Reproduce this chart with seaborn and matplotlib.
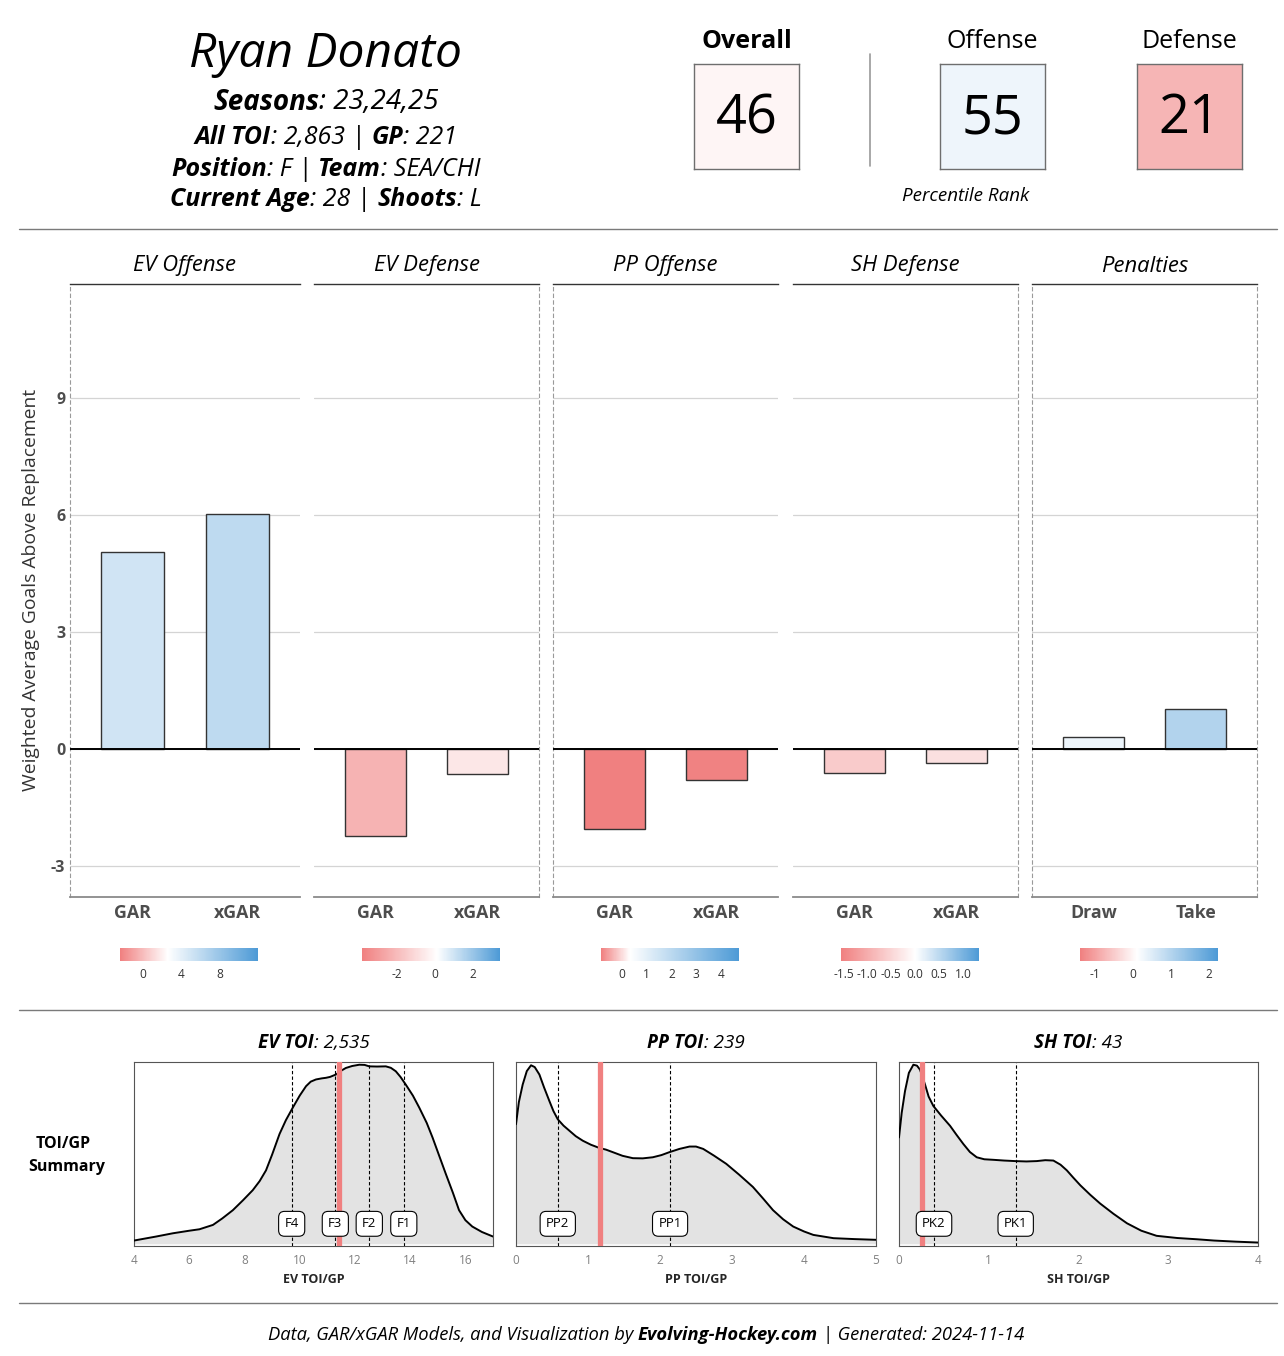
import numpy as np
import matplotlib
matplotlib.use('Agg')
import matplotlib.pyplot as plt
import seaborn as sns
from matplotlib.colors import LinearSegmentedColormap, Normalize
from matplotlib.cm import ScalarMappable
from matplotlib.lines import Line2D

sns.set_style('white')
plt.rcParams['font.family'] = ['Open Sans', 'DejaVu Sans']
plt.rcParams['text.color'] = 'black'

# ---- data ----
player = 'Ryan Donato'
rank_names = ['Overall', 'Offense', 'Defense']
rank_values = [46, 55, 21]

panel_titles = ['EV Offense', 'EV Defense', 'PP Offense', 'SH Defense', 'Penalties']
bar_cats = [['GAR', 'xGAR'], ['GAR', 'xGAR'], ['GAR', 'xGAR'], ['GAR', 'xGAR'], ['Draw', 'Take']]
ev_off = [5.05, 6.02]
ev_def = [-2.24, -0.65]
pp_off = [-2.05, -0.80]
sh_def = [-0.63, -0.37]
pens = [0.31, 1.03]
bar_values = [ev_off, ev_def, pp_off, sh_def, pens]

# colour scale (low, mid, high) and colourbar ticks per panel
scale_lims = [(-2.3, 2.6, 11.9), (-3.85, 0.1, 3.42), (-0.84, 0.32, 4.72),
              (-1.55, 0.0, 1.33), (-1.4, 0.1, 2.24)]
scale_ticks = [[0, 4, 8], [-2, 0, 2], [0, 1, 2, 3, 4],
               [-1.5, -1.0, -0.5, 0.0, 0.5, 1.0], [-1, 0, 1, 2]]

# TOI/GP density curves
ev_x = [4.0, 4.8, 5.41, 6.0, 6.37, 6.86, 7.2, 7.58, 7.95, 8.30, 8.55, 8.78, 9.0, 9.27, 9.5,
        9.75, 10.0, 10.23, 10.4, 10.59, 10.8, 10.95, 11.1, 11.31, 11.5, 11.67, 11.9, 12.16,
        12.35, 12.52, 12.8, 13.12, 13.3, 13.48, 13.65, 13.84, 14.1, 14.33, 14.6, 14.81,
        15.05, 15.29, 15.55, 15.77, 16.0, 16.25, 16.6, 17.0]
ev_d = [0.018, 0.040, 0.058, 0.072, 0.080, 0.104, 0.140, 0.185, 0.240, 0.295, 0.345, 0.404,
        0.490, 0.604, 0.680, 0.749, 0.815, 0.867, 0.892, 0.904, 0.910, 0.913, 0.918, 0.931,
        0.952, 0.967, 0.978, 0.985, 0.984, 0.976, 0.975, 0.976, 0.968, 0.949, 0.918, 0.876,
        0.815, 0.749, 0.665, 0.585, 0.485, 0.385, 0.280, 0.185, 0.130, 0.095, 0.065, 0.040]
pp_x = [0.0, 0.04, 0.093, 0.15, 0.209, 0.26, 0.325, 0.39, 0.464, 0.52, 0.58, 0.66, 0.742,
        0.83, 0.928, 1.04, 1.16, 1.25, 1.345, 1.48, 1.623, 1.76, 1.90, 2.02, 2.13, 2.27,
        2.41, 2.50, 2.60, 2.75, 2.92, 3.10, 3.29, 3.43, 3.57, 3.71, 3.85, 4.0, 4.13, 4.41,
        4.7, 5.0]
pp_d = [0.658, 0.780, 0.876, 0.950, 0.982, 0.972, 0.931, 0.860, 0.785, 0.730, 0.685, 0.650,
        0.622, 0.592, 0.567, 0.545, 0.527, 0.518, 0.504, 0.484, 0.471, 0.470, 0.476, 0.488,
        0.504, 0.522, 0.535, 0.535, 0.522, 0.485, 0.440, 0.380, 0.313, 0.250, 0.185, 0.135,
        0.095, 0.068, 0.049, 0.031, 0.026, 0.022]
sh_x = [0.0, 0.03, 0.067, 0.11, 0.16, 0.20, 0.234, 0.29, 0.33, 0.383, 0.47, 0.569, 0.64,
        0.717, 0.79, 0.866, 0.95, 1.052, 1.17, 1.294, 1.42, 1.535, 1.63, 1.72, 1.80, 1.87,
        1.94, 2.02, 2.13, 2.24, 2.39, 2.54, 2.70, 2.87, 3.1, 3.32, 3.51, 3.75, 4.0]
sh_d = [0.585, 0.720, 0.840, 0.940, 0.985, 0.980, 0.958, 0.876, 0.810, 0.758, 0.705, 0.649,
        0.600, 0.549, 0.505, 0.476, 0.465, 0.462, 0.458, 0.455, 0.453, 0.455, 0.460, 0.458,
        0.435, 0.404, 0.365, 0.322, 0.270, 0.222, 0.165, 0.113, 0.072, 0.044, 0.032, 0.025,
        0.018, 0.012, 0.007]

ev_q = [9.71, 11.29, 12.52, 13.77]
ev_q_lab = ['F4', 'F3', 'F2', 'F1']
pp_q = [0.58, 2.14]
pp_q_lab = ['PP2', 'PP1']
sh_q = [0.39, 1.30]
sh_q_lab = ['PK2', 'PK1']
player_toi = [11.43, 1.16, 0.26]
toi_titles = [('EV TOI', ': 2,535'), ('PP TOI', ': 239'), ('SH TOI', ': 43')]
toi_xlabels = ['EV TOI/GP', 'PP TOI/GP', 'SH TOI/GP']

RED = '#F08080'
BLUE = '#4D9AD6'
W, H = 1284, 1356

fig = plt.figure(figsize=(W / 100, H / 100), dpi=100)
renderer = fig.canvas.get_renderer()


def box(x0, y0, x1, y1):
    return [x0 / W, 1 - y1 / H, (x1 - x0) / W, (y1 - y0) / H]


def make_cmap(lo, mid, hi):
    p = (mid - lo) / (hi - lo)
    return LinearSegmentedColormap.from_list('c', [(0, RED), (p, 'white'), (1, BLUE)])


def rich_text(xc, y, parts, size, color='black'):
    # parts: (text, weight, style) pieces laid out left to right, centred on xc
    texts, widths = [], []
    for s, w, st in parts:
        t = fig.text(0, 1 - y / H, s, fontsize=size, fontweight=w, fontstyle=st,
                     va='center', ha='left', color=color)
        widths.append(t.get_window_extent(renderer).width)
        texts.append(t)
    x = xc - sum(widths) / 2
    for t, w in zip(texts, widths):
        t.set_x(x / W)
        x += w


def hline(y, x0=19, x1=1277, color='#7a7a7a'):
    fig.add_artist(Line2D([x0 / W, x1 / W], [1 - y / H] * 2, color=color, lw=1))


# ---- header ----
fig.text(326 / W, 1 - 54 / H, player, fontsize=34.5, fontstyle='italic', ha='center', va='center')
rich_text(326, 102, [('Seasons', 'bold', 'italic'), (': 23,24,25', 'normal', 'italic')], 20)
rich_text(326, 138, [('All TOI', 'bold', 'italic'), (': 2,863 | ', 'normal', 'italic'),
                     ('GP', 'bold', 'italic'), (': 221', 'normal', 'italic')], 18)
rich_text(326, 169, [('Position', 'bold', 'italic'), (': F | ', 'normal', 'italic'),
                     ('Team', 'bold', 'italic'), (': SEA/CHI', 'normal', 'italic')], 18)
rich_text(326, 199, [('Current Age', 'bold', 'italic'), (': 28 | ', 'normal', 'italic'),
                     ('Shoots', 'bold', 'italic'), (': L', 'normal', 'italic')], 18)

rank_cmap = make_cmap(0, 50, 100)
rank_norm = Normalize(0, 100)
for i, (name, val, x0) in enumerate(zip(rank_names, rank_values, [694, 940, 1137])):
    bax = fig.add_axes(box(x0, 64, x0 + 105, 169))
    bax.set_facecolor(rank_cmap(rank_norm(val)))
    bax.set_xticks([])
    bax.set_yticks([])
    for sp in bax.spines.values():
        sp.set_color('#6e6e6e')
        sp.set_linewidth(1)
    bax.text(0.5, 0.48, str(val), fontsize=39, ha='center', va='center', transform=bax.transAxes)
    fig.text((x0 + 52.5) / W, 1 - 42 / H, name, fontsize=18, ha='center', va='center',
             fontweight='bold' if i == 0 else 'normal')
fig.add_artist(Line2D([870 / W] * 2, [1 - 54 / H, 1 - 166 / H], color='#999999', lw=1.2))
fig.text(966 / W, 1 - 196 / H, 'Percentile Rank', fontsize=13.5, fontstyle='italic',
         ha='center', va='center')

hline(229)

# ---- GAR bar panels ----
panel_x = [(70, 300), (314, 539), (553, 778), (793, 1018), (1032, 1257)]
dashed = [('left',), ('right',), ('left',), ('right',), ('left', 'right')]
cbar_left = [120, 362, 601, 841, 1080]

for i in range(5):
    x0, x1 = panel_x[i]
    ax = fig.add_axes(box(x0, 284, x1, 897))
    lo, mid, hi = scale_lims[i]
    cmap = make_cmap(lo, mid, hi)
    norm = Normalize(lo, hi)
    vals = bar_values[i]
    cols = [cmap(norm(np.clip(v, lo, hi))) for v in vals]
    sns.barplot(x=bar_cats[i], y=vals, hue=bar_cats[i], palette=cols, legend=False,
                saturation=1, width=0.6, edgecolor='#333333', linewidth=1.0, ax=ax)
    ax.set_xlim(-0.6, 1.6)
    ax.set_ylim(-3.8, 11.92)
    ax.set_yticks([-3, 0, 3, 6, 9])
    ax.yaxis.grid(True, color='#d4d4d4', lw=0.9)
    ax.set_axisbelow(True)
    ax.axhline(0, color='black', lw=1.4, zorder=3)
    ax.set_xlabel('')
    ax.set_ylabel('')
    ax.tick_params(length=0)
    ax.tick_params(axis='x', pad=5)
    for lab in ax.get_xticklabels():
        lab.set_fontweight('bold')
        lab.set_fontsize(12.8)
        lab.set_color('#4d4d4d')
    if i == 0:
        ax.set_yticklabels(['-3', '0', '3', '6', '9'], fontweight='bold', fontsize=11.5,
                           color='#4d4d4d')
    else:
        ax.set_yticklabels([])
    for side in ['left', 'right']:
        sp = ax.spines[side]
        if side in dashed[i]:
            sp.set_visible(True)
            sp.set_color('#9a9a9a')
            sp.set_linestyle((0, (3, 3)))
            sp.set_linewidth(0.8)
        else:
            sp.set_visible(False)
    ax.spines['top'].set_color('#333333')
    ax.spines['top'].set_linewidth(1.0)
    ax.spines['bottom'].set_color('#8a8a8a')
    ax.spines['bottom'].set_linewidth(1.3)
    fig.text((x0 + x1) / 2 / W, 1 - 266 / H, panel_titles[i], fontsize=15.8,
             fontstyle='italic', ha='center', va='center')

    cax = fig.add_axes(box(cbar_left[i], 948, cbar_left[i] + 138, 961))
    cb = fig.colorbar(ScalarMappable(norm=norm, cmap=cmap), cax=cax, orientation='horizontal')
    cb.outline.set_visible(False)
    cb.set_ticks(scale_ticks[i])
    if i == 3:
        cb.set_ticklabels(['%.1f' % t for t in scale_ticks[i]])
    else:
        cb.set_ticklabels([str(t) for t in scale_ticks[i]])
    cax.tick_params(axis='x', direction='in', color='white', length=3, width=0.6,
                    labelsize=8.6, labelcolor='#333333', pad=5)

fig.text(31 / W, 1 - 590 / H, 'Weighted Average Goals Above Replacement', rotation=90,
         fontsize=13.9, color='#333333', ha='center', va='center')

hline(1010)

# ---- TOI/GP density panels ----
fig.text(63 / W, 1 - 1144 / H, 'TOI/GP', fontsize=11.5, fontweight='bold', ha='center', va='center')
fig.text(67 / W, 1 - 1167 / H, 'Summary', fontsize=11.5, fontweight='bold', ha='center', va='center')

dens = [(ev_x, ev_d, ev_q, ev_q_lab, (4, 17), [4, 6, 8, 10, 12, 14, 16]),
        (pp_x, pp_d, pp_q, pp_q_lab, (0, 5), [0, 1, 2, 3, 4, 5]),
        (sh_x, sh_d, sh_q, sh_q_lab, (0, 4), [0, 1, 2, 3, 4])]
dens_x = [(134, 493), (516, 876), (899, 1258)]

for j, (xs, ds, qs, qlab, xlim, xt) in enumerate(dens):
    x0, x1 = dens_x[j]
    ax = fig.add_axes(box(x0, 1062, x1, 1246))
    ax.fill_between(xs, ds, 0, color='#e3e3e3', lw=0, zorder=1)
    sns.lineplot(x=xs, y=ds, sort=False, color='black', lw=1.4, ax=ax, zorder=3)
    for q, lab in zip(qs, qlab):
        ax.axvline(q, color='black', lw=0.8, ls=(0, (3, 2)), zorder=2)
    ax.axvline(player_toi[j], color=RED, lw=3.8, zorder=4)
    for q, lab in zip(qs, qlab):
        ax.text(q, 0.11, lab, fontsize=9.5, ha='center', va='center', zorder=5,
                bbox=dict(boxstyle='round,pad=0.45', fc='white', ec='black', lw=0.8))
    ax.set_xlim(*xlim)
    ax.set_ylim(-0.012, 1.0)
    ax.set_xticks(xt)
    ax.set_yticks([])
    ax.set_xticklabels([str(t) for t in xt])
    ax.tick_params(axis='x', length=0, labelsize=8.5, labelcolor='#808080', pad=6)
    ax.set_xlabel(toi_xlabels[j], fontsize=9, fontweight='bold', labelpad=4)
    ax.set_ylabel('')
    for sp in ax.spines.values():
        sp.set_color('#555555')
        sp.set_linewidth(0.8)
    rich_text((x0 + x1) / 2, 1043, [(toi_titles[j][0], 'bold', 'italic'),
                                    (toi_titles[j][1], 'normal', 'italic')], 13.6)

hline(1303)

rich_text(646, 1335, [('Data, GAR/xGAR Models, and Visualization by ', 'normal', 'italic'),
                      ('Evolving-Hockey.com', 'bold', 'italic'),
                      (' | Generated: 2024-11-14', 'normal', 'italic')], 13.2)

fig.savefig('out.png', dpi=100, facecolor='white')
